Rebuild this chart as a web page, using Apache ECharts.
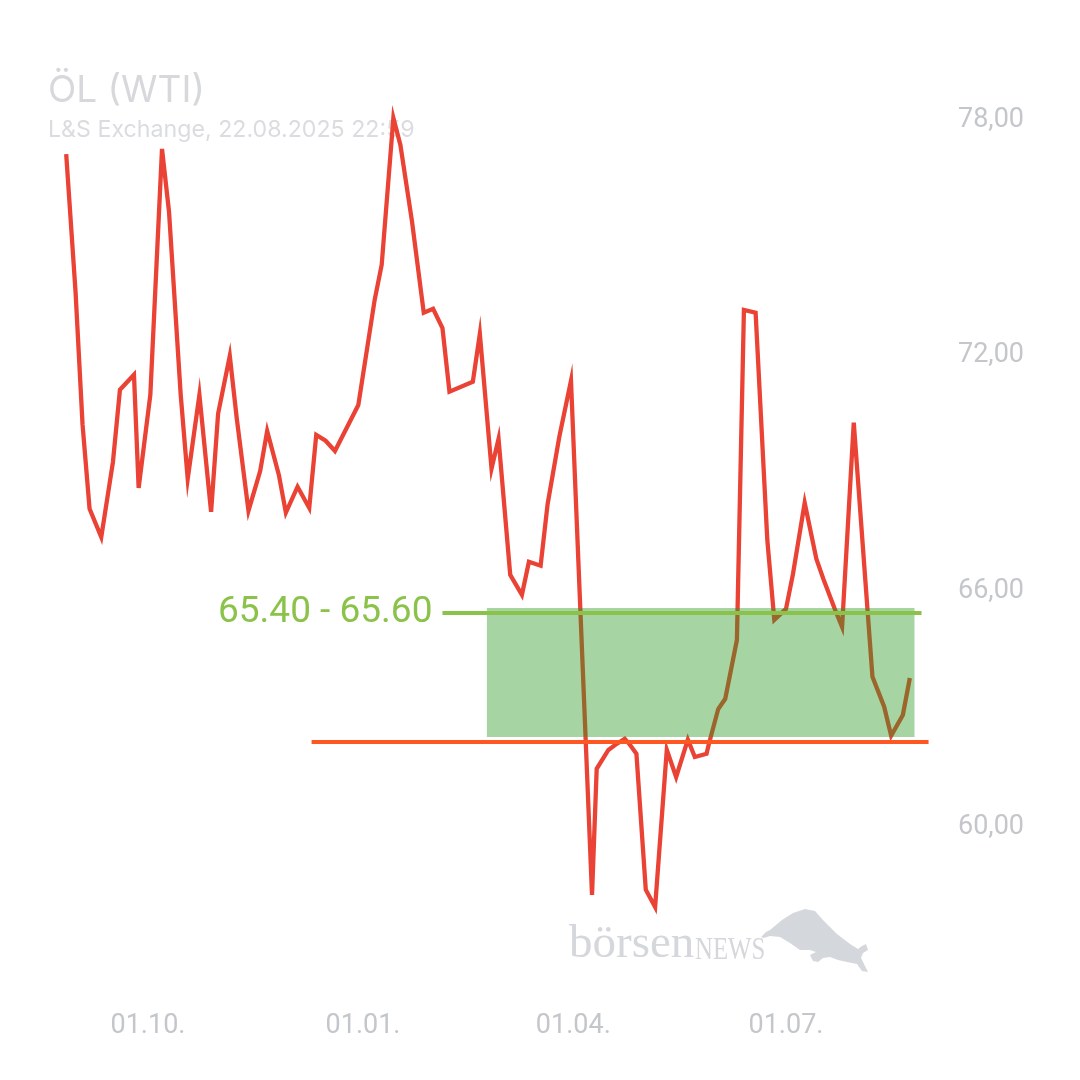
<!DOCTYPE html>
<html>
<head>
<meta charset="utf-8">
<script src="https://cdn.jsdelivr.net/npm/echarts@6/dist/echarts.min.js"></script>
<style>html,body{margin:0;padding:0;background:#fff}#c{width:1080px;height:1080px}</style>
</head>
<body>
<div id="c"></div>
<script>
// ---- data ----
const dates = [
 '2024-08-27','2024-08-31','2024-09-03','2024-09-06','2024-09-11','2024-09-16','2024-09-19','2024-09-25','2024-09-27',
 '2024-10-02','2024-10-07','2024-10-10','2024-10-15','2024-10-18','2024-10-23','2024-10-28','2024-10-31',
 '2024-11-05','2024-11-08','2024-11-13','2024-11-18','2024-11-21','2024-11-26','2024-11-29',
 '2024-12-04','2024-12-09','2024-12-12','2024-12-16','2024-12-20','2024-12-30',
 '2025-01-06','2025-01-09','2025-01-14','2025-01-17','2025-01-22','2025-01-27','2025-01-31',
 '2025-02-04','2025-02-07','2025-02-17','2025-02-20','2025-02-25','2025-02-28',
 '2025-03-05','2025-03-10','2025-03-13','2025-03-18','2025-03-21','2025-03-26','2025-03-31',
 '2025-04-09','2025-04-11','2025-04-16','2025-04-19','2025-04-23','2025-04-25','2025-04-28',
 '2025-05-02','2025-05-06','2025-05-11','2025-05-15','2025-05-20','2025-05-23','2025-05-28','2025-05-29',
 '2025-06-02','2025-06-05','2025-06-10','2025-06-13','2025-06-18','2025-06-23','2025-06-26',
 '2025-07-01','2025-07-04','2025-07-09','2025-07-14','2025-07-17','2025-07-22','2025-07-25','2025-07-30',
 '2025-08-04','2025-08-07','2025-08-12','2025-08-15','2025-08-20','2025-08-23'
];
const prices = [
 77.13,73.62,70.24,68.10,67.38,69.29,71.13,71.51,68.63,
 71.00,77.26,75.66,71.00,68.86,71.00,68.02,70.52,
 71.99,70.39,68.05,69.06,70.08,68.96,68.00,
 68.66,68.12,69.98,69.83,69.57,70.74,
 73.42,74.31,78.05,77.36,75.40,73.09,73.19,
 72.70,71.08,71.33,72.55,69.12,69.88,
 66.42,65.91,66.75,66.65,68.22,69.93,71.36,
 58.27,61.48,61.96,62.09,62.24,62.11,61.86,
 58.40,57.96,61.96,61.27,62.22,61.78,61.86,62.11,
 63.00,63.26,64.76,73.16,73.09,67.31,65.27,
 65.55,66.44,68.25,66.82,66.31,65.53,65.09,70.29,
 66.24,63.82,63.06,62.32,62.85,63.79
];
const yTickValues = [60, 66, 72, 78];
const xTickDates = ['2024-10-01', '2025-01-01', '2025-04-01', '2025-07-01'];
const supportLevel = 62.16;
const supportRange = ['2024-12-10', '2025-08-31'];
const zoneBounds = [62.29, 65.57];
const zoneRange = ['2025-02-23', '2025-08-25'];
const targetLevel = 65.44;
const targetRange = ['2025-02-04', '2025-08-28'];
const targetLabel = '65.40 - 65.60';
const titleText = 'ÖL (WTI)';
const subText = 'L&S Exchange, 22.08.2025 22:59';

// ---- helpers ----
function ts(s) { const p = s.split('-').map(Number); return new Date(p[0], p[1] - 1, p[2]).getTime(); }
const DAY = 86400000;
const oct1 = ts('2024-10-01');
const seriesData = dates.map((d, i) => [ts(d), prices[i]]);

const chart = echarts.init(document.getElementById('c'), null, { renderer: 'canvas' });
const grayTxt = '#c3c6ca';
const logoGray = '#d4d7db';

chart.setOption({
  animation: false,
  backgroundColor: '#ffffff',
  title: {
    text: titleText,
    subtext: subText,
    left: 43,
    top: 67,
    z: 1,
    itemGap: 10,
    textStyle: { fontFamily: 'Inter', fontSize: 37, fontWeight: 'normal', color: '#d6d8db' },
    subtextStyle: { fontFamily: 'Inter', fontSize: 23.2, fontWeight: 'normal', color: '#dadce0' }
  },
  grid: { left: 40, right: 130, top: 41.3, bottom: 96.0, containLabel: false },
  xAxis: {
    type: 'value',
    min: oct1 - 46.21 * DAY,
    max: oct1 + 343.18 * DAY,
    axisLine: { show: false },
    axisTick: { show: false },
    splitLine: { show: false },
    axisLabel: {
      customValues: xTickDates.map(ts),
      margin: 29,
      fontFamily: 'Roboto',
      fontSize: 27,
      color: grayTxt,
      formatter: function (v) {
        const d = new Date(v);
        const dd = String(d.getDate()).padStart(2, '0');
        const mm = String(d.getMonth() + 1).padStart(2, '0');
        return dd + '.' + mm + '.';
      }
    }
  },
  yAxis: {
    type: 'value',
    position: 'right',
    min: 56,
    max: 80,
    axisLine: { show: false },
    axisTick: { show: false },
    splitLine: { show: false },
    axisLabel: {
      customValues: yTickValues,
      margin: 8,
      fontFamily: 'Roboto',
      fontSize: 27,
      color: grayTxt,
      formatter: v => v.toFixed(2).replace('.', ',')
    }
  },
  graphic: [
    {
      type: 'text', left: 569, top: 921, z: 0,
      style: { text: 'börsen', font: '47px "Liberation Serif"', fill: logoGray }
    },
    {
      type: 'text', x: 695, y: 935, z: 0, scaleX: 0.8,
      style: { text: 'NEWS', font: '31px "Liberation Serif"', fill: logoGray }
    },
    {
      type: 'polygon', z: 0,
      shape: { points: [[761,937],[766,932],[770,930],[782,920],[793,913],[805,909],[815,911],[822,919],[837,934],[850,944],[858,949],[862,946],[866,944],[868,950],[863,953],[861,958],[865,966],[868,972],[862,971],[857,964],[847,962],[838,960],[830,957],[823,958],[818,962],[813,961],[810,955],[816,952],[810,950],[800,950],[790,943],[780,937],[770,936],[764,938]] },
      style: { fill: logoGray }
    }
  ],
  series: [
    {
      type: 'line',
      data: seriesData,
      showSymbol: false,
      symbol: 'none',
      z: 2,
      silent: true,
      lineStyle: { color: '#ea4335', width: 4.3, join: 'miter' }
    },
    {
      type: 'line',
      data: [],
      z: 3,
      silent: true,
      markArea: {
        z: 3,
        silent: true,
        itemStyle: { color: 'rgba(38,153,32,0.41)' },
        data: [[
          { coord: [ts(zoneRange[0]), zoneBounds[1]] },
          { coord: [ts(zoneRange[1]), zoneBounds[0]] }
        ]]
      }
    },
    {
      type: 'line',
      data: [],
      z: 4,
      silent: true,
      markLine: {
        z: 5,
        silent: true,
        symbol: 'none',
        label: { show: false },
        emphasis: { disabled: true },
        data: [
          [
            { coord: [ts(supportRange[0]), supportLevel], lineStyle: { color: '#ff5722', width: 4, type: 'solid' }, label: { show: false } },
            { coord: [ts(supportRange[1]), supportLevel] }
          ],
          [
            { coord: [ts(targetRange[0]), targetLevel], lineStyle: { color: '#8bc34a', width: 4, type: 'solid' },
              label: { show: true, position: 'start', distance: 10, formatter: targetLabel, fontFamily: 'Roboto', fontSize: 37, color: '#8bc34a' } },
            { coord: [ts(targetRange[1]), targetLevel] }
          ]
        ]
      }
    }
  ]
});
</script>
</body>
</html>
